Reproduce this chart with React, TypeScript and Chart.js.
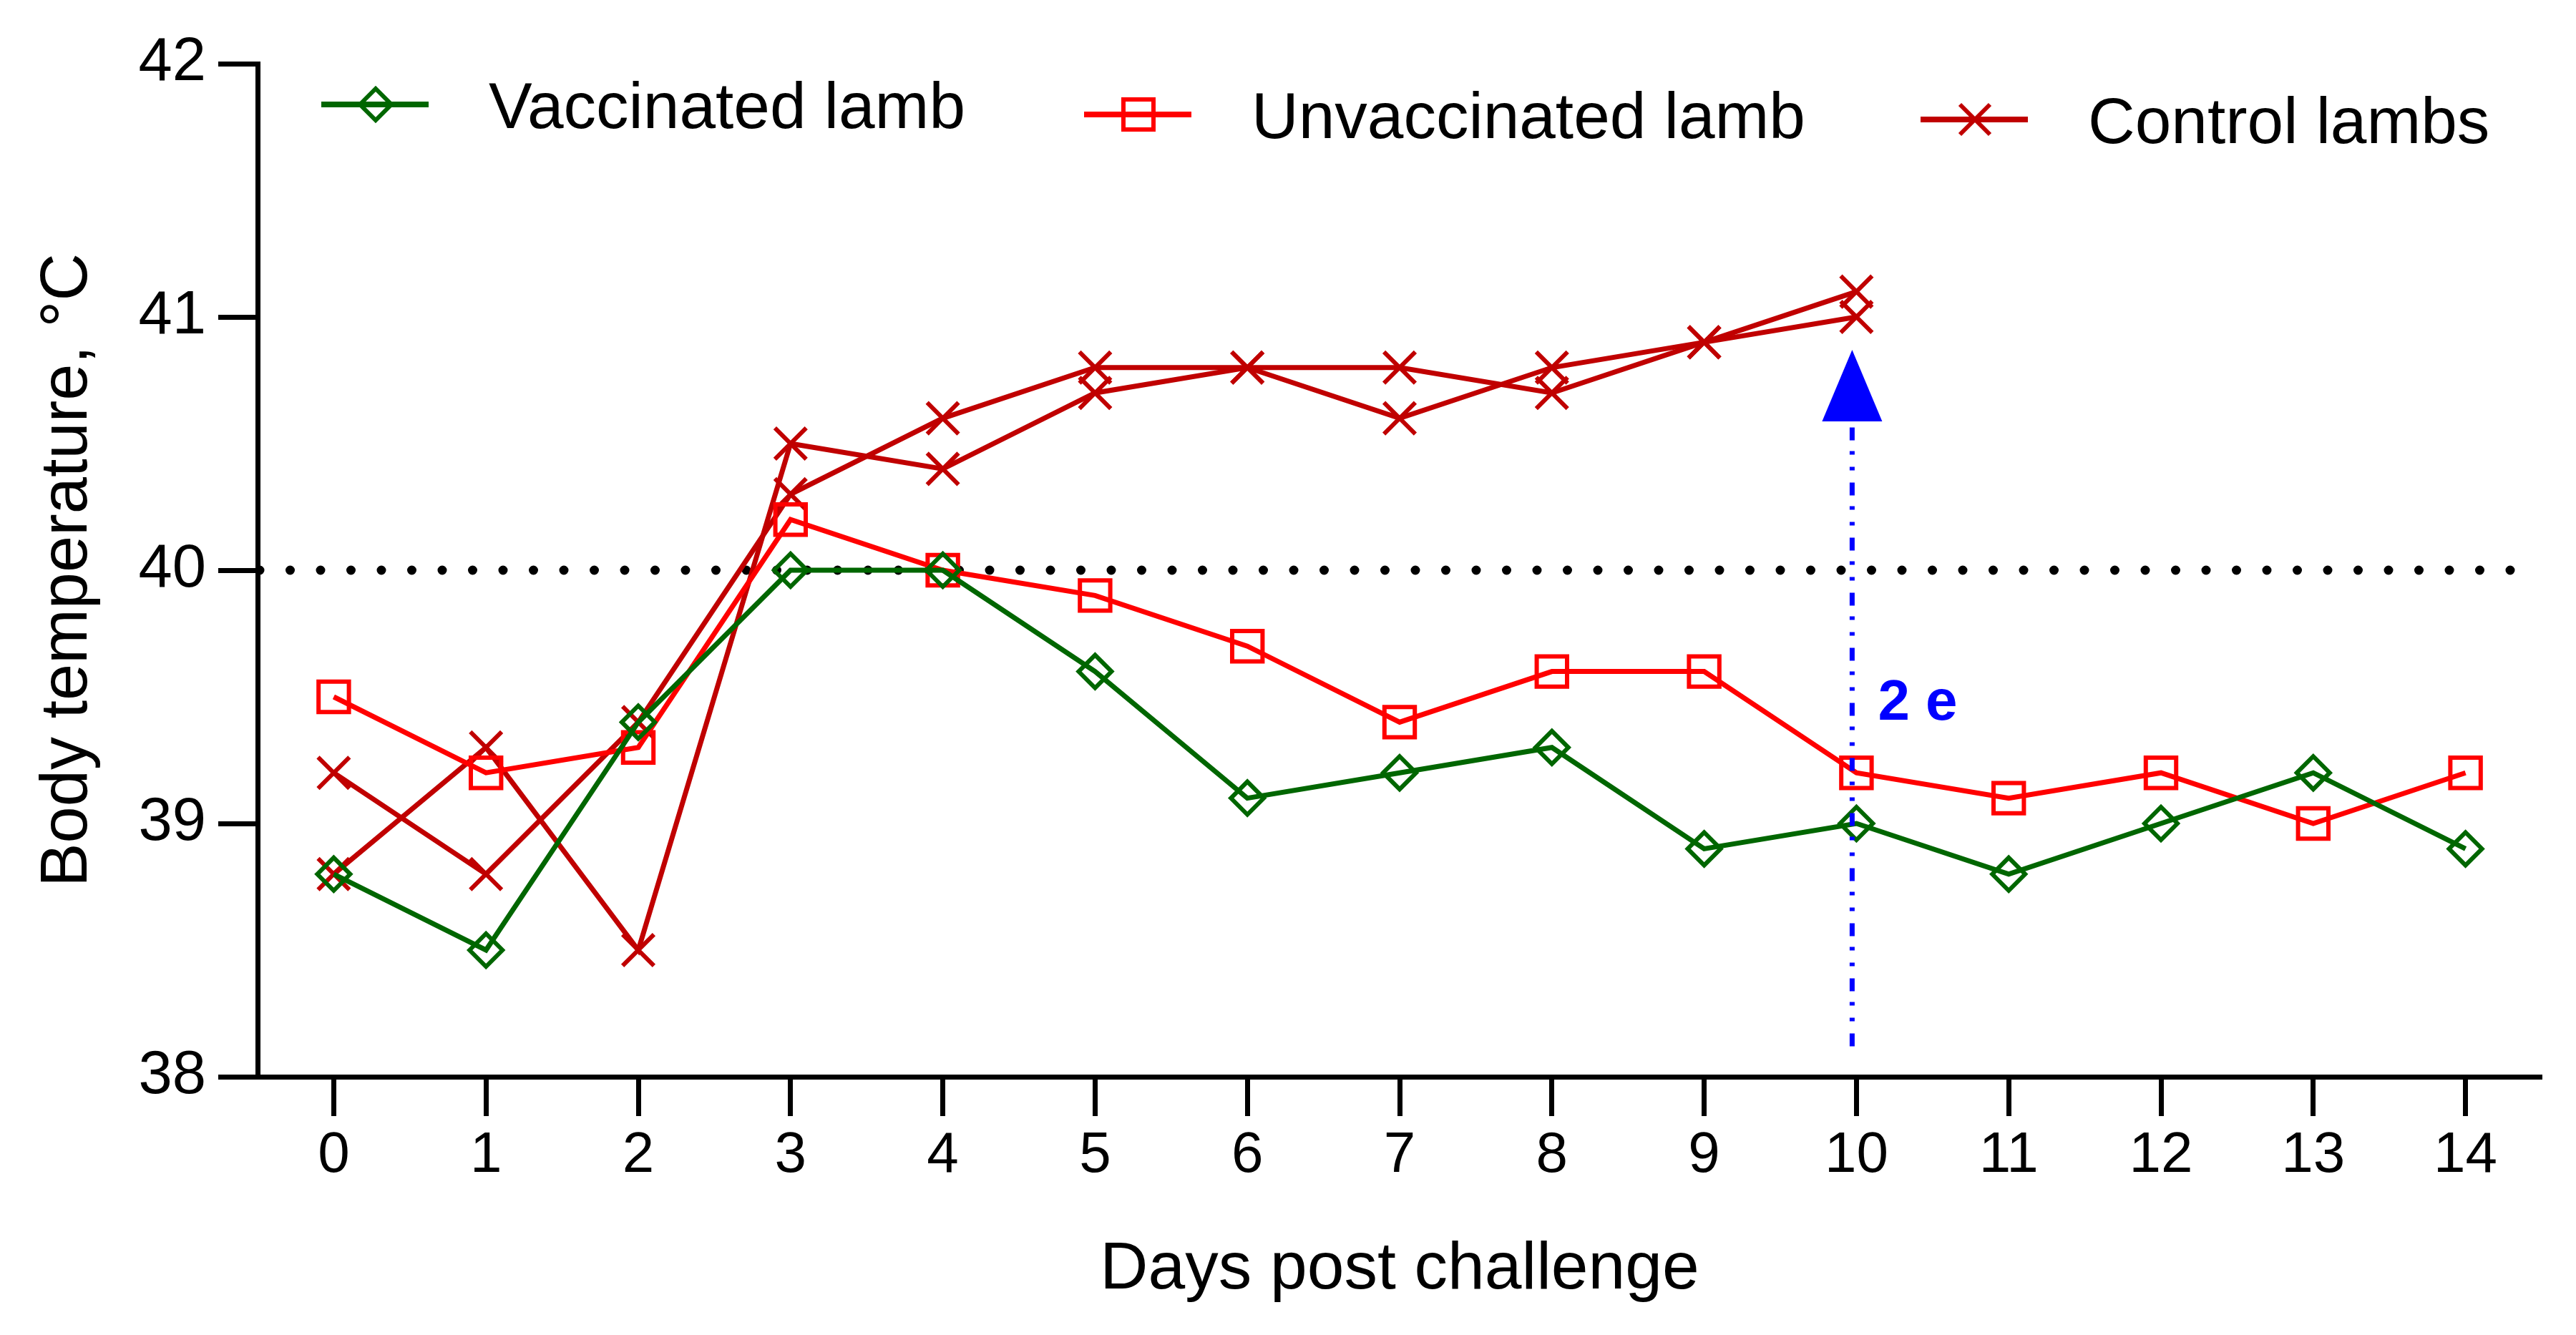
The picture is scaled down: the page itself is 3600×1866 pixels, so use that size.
import React, { useEffect, useRef } from "react";
import { Chart, registerables } from "chart.js";

Chart.register(...registerables);

const days = ["0", "1", "2", "3", "4", "5", "6", "7", "8", "9", "10", "11", "12", "13", "14"];
const vaccinated = [38.8, 38.5, 39.4, 40.0, 40.0, 39.6, 39.1, 39.2, 39.3, 38.9, 39.0, 38.8, 39.0, 39.2, 38.9];
const unvaccinated = [39.5, 39.2, 39.3, 40.2, 40.0, 39.9, 39.7, 39.4, 39.6, 39.6, 39.2, 39.1, 39.2, 39.0, 39.2];
const controlA = [39.2, 38.8, 39.4, 40.3, 40.6, 40.8, 40.8, 40.8, 40.7, 40.9, 41.1];
const controlB = [38.8, 39.3, 38.5, 40.5, 40.4, 40.7, 40.8, 40.6, 40.8, 40.9, 41.0];

const feverThreshold = 40;
const arrowDay = 10;
const arrowFrom = 38.12;
const arrowTo = 40.87;
const arrowLabel = "2 e";
const arrowLabelAt = 39.41;

const FONT = '"Liberation Sans", Arial, sans-serif';
const GREEN = "#006600";
const RED = "#ff0000";
const DARKRED = "#c00000";
const BLUE = "#0000ff";

type MarkerStyle = "rectRot" | "rect" | "crossRot";

function drawMarker(ctx: CanvasRenderingContext2D, style: MarkerStyle, x: number, y: number) {
	ctx.beginPath();
	if (style === "rectRot") {
		ctx.moveTo(x - 22, y);
		ctx.lineTo(x, y - 22);
		ctx.lineTo(x + 22, y);
		ctx.lineTo(x, y + 22);
		ctx.closePath();
	} else if (style === "rect") {
		ctx.rect(x - 21, y - 21, 42, 42);
	} else {
		ctx.moveTo(x - 21, y - 21);
		ctx.lineTo(x + 21, y + 21);
		ctx.moveTo(x + 21, y - 21);
		ctx.lineTo(x - 21, y + 21);
	}
	ctx.stroke();
}

// dotted line at the fever threshold
const thresholdPlugin = {
	id: "threshold",
	beforeDatasetsDraw(chart: any) {
		const { ctx, chartArea, scales } = chart;
		const y = scales.y.getPixelForValue(feverThreshold);
		ctx.save();
		ctx.strokeStyle = "#000";
		ctx.lineWidth = 13;
		ctx.lineCap = "round";
		ctx.setLineDash([0, 42.5]);
		ctx.beginPath();
		ctx.moveTo(chartArea.left + 3, y);
		ctx.lineTo(chartArea.right - 40, y);
		ctx.stroke();
		ctx.restore();
	},
};

// blue dash-dot arrow with its label
const arrowPlugin = {
	id: "arrow",
	afterDatasetsDraw(chart: any) {
		const { ctx, scales } = chart;
		const x = scales.x.getPixelForValue(arrowDay) - 6;
		const yBottom = scales.y.getPixelForValue(arrowFrom);
		const yTip = scales.y.getPixelForValue(arrowTo);
		const yBase = yTip + 100;
		ctx.save();
		ctx.strokeStyle = BLUE;
		ctx.fillStyle = BLUE;
		ctx.lineWidth = 7;
		ctx.setLineDash([18, 17, 5, 17, 5, 15]);
		ctx.beginPath();
		ctx.moveTo(x, yBottom);
		ctx.lineTo(x, yBase);
		ctx.stroke();
		ctx.setLineDash([]);
		ctx.beginPath();
		ctx.moveTo(x, yTip);
		ctx.lineTo(x + 42, yBase);
		ctx.lineTo(x - 42, yBase);
		ctx.closePath();
		ctx.fill();
		ctx.font = `bold 80px ${FONT}`;
		ctx.textBaseline = "alphabetic";
		ctx.textAlign = "left";
		ctx.fillText(arrowLabel, x + 36, scales.y.getPixelForValue(arrowLabelAt));
		ctx.restore();
	},
};

const legendItems: { label: string; color: string; style: MarkerStyle; x: number; y: number }[] = [
	{ label: "Vaccinated lamb", color: GREEN, style: "rectRot", x: 449, y: 146 },
	{ label: "Unvaccinated lamb", color: RED, style: "rect", x: 1515, y: 160 },
	{ label: "Control lambs", color: DARKRED, style: "crossRot", x: 2684, y: 167 },
];

const legendPlugin = {
	id: "insideLegend",
	afterDraw(chart: any) {
		const { ctx } = chart;
		ctx.save();
		legendItems.forEach((item) => {
			ctx.strokeStyle = item.color;
			ctx.lineWidth = 8;
			ctx.beginPath();
			ctx.moveTo(item.x, item.y);
			ctx.lineTo(item.x + 150, item.y);
			ctx.stroke();
			ctx.lineWidth = 6;
			drawMarker(ctx, item.style, item.x + 76, item.y);
			ctx.fillStyle = "#000";
			ctx.font = `91px ${FONT}`;
			ctx.textBaseline = "alphabetic";
			ctx.textAlign = "left";
			ctx.fillText(item.label, item.x + 234, item.y + 33);
		});
		ctx.restore();
	},
};

const axisGrid = {
	display: true,
	drawOnChartArea: false,
	drawTicks: true,
	tickLength: 55,
	tickWidth: 7,
	tickColor: "#000",
	color: "#000",
};

const axisBorder = { display: true, color: "#000", width: 7 };

const BodyTemperatureChart: React.FC = () => {
	const chartRef = useRef<HTMLCanvasElement>(null);
	const chartInstance = useRef<Chart>();

	useEffect(() => {
		if (!chartRef.current) return;
		const ctx = chartRef.current.getContext("2d");
		if (!ctx) return;

		const series = (label: string, data: number[], color: string, style: MarkerStyle, radius: number) => ({
			label,
			data,
			borderColor: color,
			borderWidth: 7,
			pointStyle: style,
			pointRadius: radius,
			pointHoverRadius: radius,
			pointBorderWidth: 6,
			pointBorderColor: color,
			pointBackgroundColor: "rgba(0,0,0,0)",
			fill: false,
			tension: 0,
		});

		chartInstance.current = new Chart(ctx, {
			type: "line",
			data: {
				labels: days,
				datasets: [
					series("Vaccinated lamb", vaccinated, GREEN, "rectRot", 23),
					series("Unvaccinated lamb", unvaccinated, RED, "rect", 30),
					series("Control lambs", controlA, DARKRED, "crossRot", 31),
					series("Control lambs", controlB, DARKRED, "crossRot", 31),
				],
			},
			options: {
				animation: false,
				responsive: true,
				maintainAspectRatio: false,
				layout: { padding: { left: 0, top: 89, right: 48, bottom: 0 } },
				plugins: {
					legend: { display: false },
					tooltip: { enabled: false },
				},
				scales: {
					x: {
						type: "category",
						offset: true,
						grid: axisGrid,
						border: axisBorder,
						ticks: {
							color: "#000",
							font: { family: FONT, size: 80 },
							padding: 8,
							maxRotation: 0,
							autoSkip: false,
						},
						title: {
							display: true,
							text: "Days post challenge",
							color: "#000",
							font: { family: FONT, size: 93 },
							padding: { top: 0, bottom: 35 },
						},
						afterFit: (scale: any) => {
							scale.height = 361;
						},
					},
					y: {
						min: 38,
						max: 42,
						grid: axisGrid,
						border: axisBorder,
						ticks: {
							stepSize: 1,
							color: "#000",
							font: { family: FONT, size: 85 },
							padding: 17,
						},
						title: {
							display: true,
							text: "Body temperature, °C",
							color: "#000",
							font: { family: FONT, size: 92 },
							padding: { top: 40, bottom: 0 },
						},
						afterFit: (scale: any) => {
							scale.width = 360;
						},
					},
				},
			} as any,
			plugins: [thresholdPlugin, arrowPlugin, legendPlugin],
		});

		return () => {
			if (chartInstance.current) {
				chartInstance.current.destroy();
			}
		};
	}, []);

	return (
		<div style={{ position: "fixed", left: 0, top: 0, width: "3600px", height: "1866px", background: "#fff" }}>
			<canvas ref={chartRef} />
		</div>
	);
};

export default function App() {
	return <BodyTemperatureChart />;
}
